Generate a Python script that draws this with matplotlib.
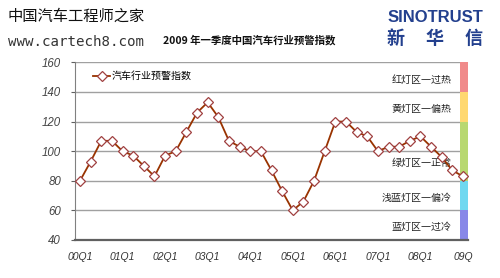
import matplotlib
matplotlib.use("Agg")
import matplotlib.pyplot as plt
import matplotlib.transforms as mtransforms

plt.rcParams['font.family'] = ['Noto Sans CJK SC', 'DejaVu Sans']

quarters = ["00Q1", "01Q1", "02Q1", "03Q1", "04Q1", "05Q1", "06Q1", "07Q1", "08Q1", "09Q"]
values = [80, 93, 107, 107, 100, 97, 90, 83, 97, 100, 113, 126, 133, 123, 107, 103,
          100, 100, 87, 73, 60, 66, 80, 100, 120, 120, 113, 110, 100, 103, 103, 107,
          110, 103, 96, 87, 83]
series_name = "汽车行业预警指数"
title = "2009 年一季度中国汽车行业预警指数"
zone_labels = ["红灯区一过热", "黄灯区一偏热", "绿灯区一正常", "浅蓝灯区一偏冷", "蓝灯区一过冷"]
zone_bounds = [(140, 160), (120, 140), (80, 120), (60, 80), (40, 60)]
zone_label_y = [148, 128.5, 92, 68.5, 49]
zone_colors = ["#f08a8a", "#ffd870", "#b8d870", "#70d8f0", "#8888e8"]
yticks = [40, 60, 80, 100, 120, 140, 160]

fig = plt.figure(figsize=(5.0, 2.78), dpi=100)
fig.patch.set_facecolor("white")
ax = fig.add_axes([0.15, 0.1367, 0.786, 0.639])

x = list(range(len(values)))
ax.plot(x, values, color="#993300", lw=1.3, marker="D", markersize=5.5,
        markerfacecolor="white", markeredgecolor="#a04040", markeredgewidth=0.9,
        label=series_name, zorder=5, clip_on=False)

ax.set_xlim(-0.47, 36.47)
ax.set_ylim(40, 160)
ax.set_yticks(yticks)
ax.set_yticklabels([str(v) for v in yticks], fontstyle="italic", fontsize=8.3,
                   color="#444444", family=["Liberation Sans"])
ax.set_xticks(list(range(0, 37, 4)))
ax.set_xticklabels(quarters, fontstyle="italic", fontsize=7.5, color="#333333",
                   family=["Liberation Sans"])
ax.tick_params(axis="x", length=0, pad=9)
ax.tick_params(axis="y", length=3, color="#606060", pad=7)

for v in yticks[1:]:
    ax.axhline(v, color="#a0a0a0", lw=1.0, zorder=1)

for s in ["top", "right"]:
    ax.spines[s].set_visible(False)
ax.spines["left"].set_color("#808080")
ax.spines["bottom"].set_color("#606060")
ax.spines["bottom"].set_linewidth(1.6)

for (lo, hi), c in zip(zone_bounds, zone_colors):
    ax.axhspan(lo, hi, xmin=0.979, xmax=1.0, color=c, zorder=2, lw=0)

trans = mtransforms.blended_transform_factory(ax.transAxes, ax.transData)
for lab, yy in zip(zone_labels, zone_label_y):
    ax.text(0.959, yy, lab, transform=trans, ha="right", va="center",
            fontsize=7.2, color="#222222", zorder=3)

leg = ax.legend(loc="upper left", bbox_to_anchor=(0.046, 0.95), frameon=False,
                borderpad=0, borderaxespad=0, handlelength=1.7, handletextpad=0.2,
                fontsize=7.2)

fig.text(0.016, 0.94, "中国汽车工程师之家", fontsize=11, fontweight="medium",
         color="#111111", ha="left", va="center")
fig.text(0.016, 0.849, "www.cartech8.com", fontsize=10.2, family=["DejaVu Sans Mono"],
         color="#333333", ha="left", va="center")
fig.text(0.326, 0.856, title, fontsize=7.5, fontweight="bold", color="#111111",
         ha="left", va="center")
fig.text(0.871, 0.937, "SINOTRUST", fontsize=12, fontweight="bold",
         family=["Liberation Sans"], color="#23408e", ha="center", va="center")
for cx, ch in zip([396, 434, 474], ["新", "华", "信"]):
    fig.text(cx / 500, 1 - 38 / 278, ch, fontsize=13, fontweight="bold",
             color="#23408e", ha="center", va="center")

fig.savefig("out.png", dpi=100, facecolor="white")
